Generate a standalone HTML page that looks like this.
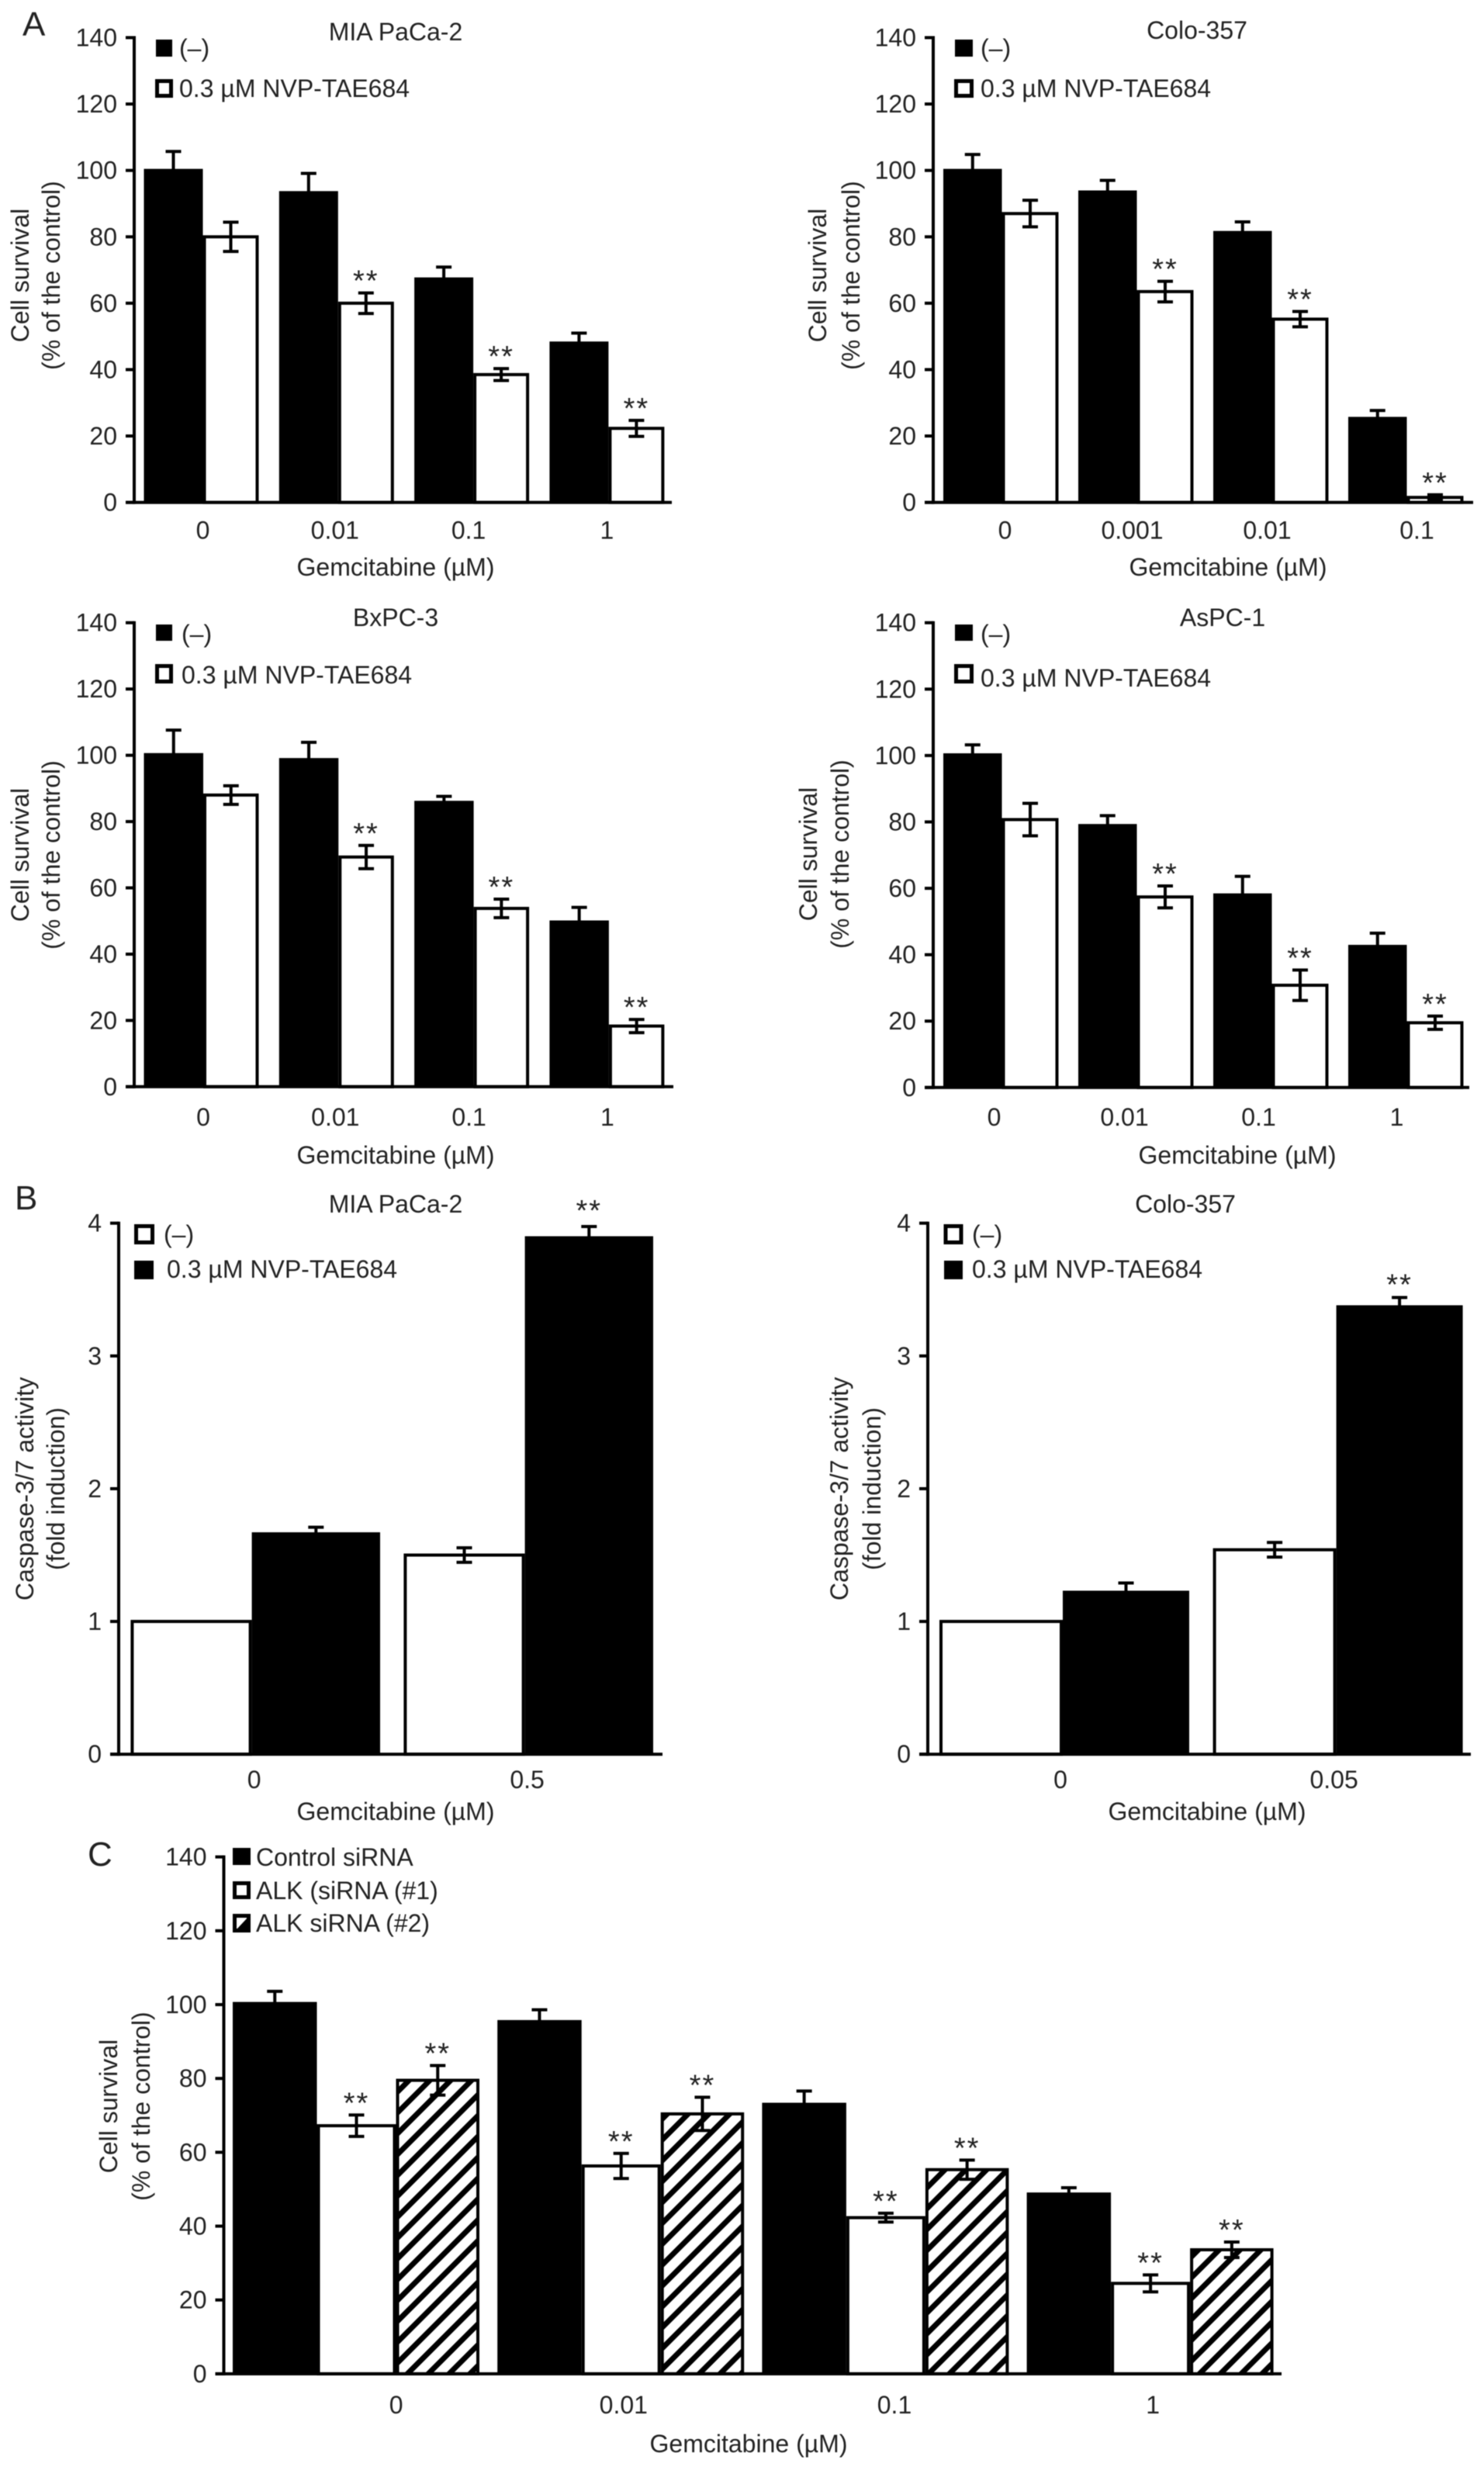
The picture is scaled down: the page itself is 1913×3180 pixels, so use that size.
<!DOCTYPE html>
<html lang="en">
<head>
<meta charset="utf-8">
<title>Gemcitabine and NVP-TAE684 cell survival figure</title>
<style>
html,body{margin:0;padding:0;background:#fff;}
svg{display:block;filter:blur(0.6px);}
text{font-family:"Liberation Sans",Arial,sans-serif;font-size:32px;fill:#222;dominant-baseline:central;}
.panel-letter{font-size:44px;dominant-baseline:alphabetic;}
.mid{text-anchor:middle;}
</style>
</head>
<body>
<svg id="figure" xmlns="http://www.w3.org/2000/svg" width="1913" height="3180" viewBox="0 0 1913 3180">
<defs>
<pattern id="hatch" width="19" height="19" patternUnits="userSpaceOnUse" patternTransform="rotate(45)">
<rect width="19" height="19" fill="#fff"></rect>
<rect x="4.5" width="7" height="19" fill="#000"></rect>
</pattern>
</defs>
<rect width="1913" height="3180" fill="#fff"></rect>

<text class="panel-letter" x="29" y="46">A</text>
<text class="panel-letter" x="19" y="1559">B</text>
<text class="panel-letter" x="113" y="2405">C</text>

<!-- A: MIA PaCa-2 -->
<text class="mid" x="510" y="41">MIA PaCa-2</text>
<rect x="201" y="51" width="21" height="22" fill="#000"></rect>
<text x="231" y="62">(–)</text>
<rect x="202.500" y="104.500" width="18" height="19" fill="#fff" stroke="#000" stroke-width="5"></rect>
<text x="231" y="114">0.3 µM NVP-TAE684</text>
<text class="mid" x="510" y="731">Gemcitabine (µM)</text>
<text class="mid" transform="rotate(-90 26 355)" x="26" y="355">Cell survival</text>
<text class="mid" transform="rotate(-90 66 355)" x="66" y="355">(% of the control)</text>

<!-- A: Colo-357 -->
<text class="mid" x="1543" y="39">Colo-357</text>
<rect x="1231" y="51" width="23" height="22" fill="#000"></rect>
<text x="1264" y="62">(–)</text>
<rect x="1232.500" y="104.500" width="20" height="19" fill="#fff" stroke="#000" stroke-width="5"></rect>
<text x="1264" y="114">0.3 µM NVP-TAE684</text>
<text class="mid" x="1583" y="731">Gemcitabine (µM)</text>
<text class="mid" transform="rotate(-90 1054 355)" x="1054" y="355">Cell survival</text>
<text class="mid" transform="rotate(-90 1097 355)" x="1097" y="355">(% of the control)</text>

<!-- A: BxPC-3 -->
<text class="mid" x="510" y="796">BxPC-3</text>
<rect x="201" y="805" width="21" height="21" fill="#000"></rect>
<text x="234" y="817">(–)</text>
<rect x="202.500" y="858.500" width="18" height="20" fill="#fff" stroke="#000" stroke-width="5"></rect>
<text x="234" y="870">0.3 µM NVP-TAE684</text>
<text class="mid" x="510" y="1489">Gemcitabine (µM)</text>
<text class="mid" transform="rotate(-90 26 1102)" x="26" y="1102">Cell survival</text>
<text class="mid" transform="rotate(-90 66 1102)" x="66" y="1102">(% of the control)</text>

<!-- A: AsPC-1 -->
<text class="mid" x="1576" y="796">AsPC-1</text>
<rect x="1231" y="805" width="23" height="21" fill="#000"></rect>
<text x="1264" y="817">(–)</text>
<rect x="1232.500" y="858.500" width="20" height="20" fill="#fff" stroke="#000" stroke-width="5"></rect>
<text x="1264" y="874">0.3 µM NVP-TAE684</text>
<text class="mid" x="1595" y="1489">Gemcitabine (µM)</text>
<text class="mid" transform="rotate(-90 1042 1101)" x="1042" y="1101">Cell survival</text>
<text class="mid" transform="rotate(-90 1083 1101)" x="1083" y="1101">(% of the control)</text>

<!-- B: MIA PaCa-2 -->
<text class="mid" x="510" y="1552">MIA PaCa-2</text>
<rect x="175.500" y="1580.500" width="21" height="21" fill="#fff" stroke="#000" stroke-width="5"></rect>
<text x="211" y="1591">(–)</text>
<rect x="173" y="1625" width="25" height="24" fill="#000"></rect>
<text x="215" y="1636">0.3 µM NVP-TAE684</text>
<text class="mid" x="510" y="2335">Gemcitabine (µM)</text>
<text class="mid" transform="rotate(-90 32 1919)" x="32" y="1919">Caspase-3/7 activity</text>
<text class="mid" transform="rotate(-90 72 1919)" x="72" y="1919">(fold induction)</text>

<!-- B: Colo-357 -->
<text class="mid" x="1528" y="1552">Colo-357</text>
<rect x="1219" y="1580.500" width="20" height="21" fill="#fff" stroke="#000" stroke-width="5"></rect>
<text x="1253" y="1591">(–)</text>
<rect x="1217" y="1625" width="24" height="24" fill="#000"></rect>
<text x="1253" y="1636">0.3 µM NVP-TAE684</text>
<text class="mid" x="1556" y="2335">Gemcitabine (µM)</text>
<text class="mid" transform="rotate(-90 1082 1919)" x="1082" y="1919">Caspase-3/7 activity</text>
<text class="mid" transform="rotate(-90 1124 1919)" x="1124" y="1919">(fold induction)</text>

<!-- C -->
<rect x="300" y="2382" width="23" height="22" fill="#000"></rect>
<text x="330" y="2394">Control siRNA</text>
<rect x="302.500" y="2427.500" width="18" height="18" fill="#fff" stroke="#000" stroke-width="5"></rect>
<text x="330" y="2437">ALK (siRNA (#1)</text>
<rect x="302.500" y="2469.500" width="18" height="19" fill="#fff" stroke="#000" stroke-width="5"></rect>
<polygon points="305,2487 319,2487 319,2472" fill="#000"></polygon>
<text x="330" y="2479">ALK siRNA (#2)</text>
<text class="mid" x="965" y="3150">Gemcitabine (µM)</text>
<text class="mid" transform="rotate(-90 140 2715)" x="140" y="2715">Cell survival</text>
<text class="mid" transform="rotate(-90 182 2715)" x="182" y="2715">(% of the control)</text>
</svg>

<script>
// ---------- Shared tick labels ----------
const survivalTicks = [0, 20, 40, 60, 80, 100, 120, 140];
const caspaseTicks = [0, 1, 2, 3, 4];

// ---------- A: MIA PaCa-2 ----------
const miaCategories = ['0', '0.01', '0.1', '1'];
const miaControl = [100, 93.3, 67.3, 48];
const miaControlErr = [5.7, 5.8, 3.6, 3];
const miaTreated = [80, 60, 38.5, 22.3];
const miaTreatedErr = [4.4, 3.1, 1.8, 2.4];
const miaStars = [0, 1, 1, 1];

// ---------- A: Colo-357 ----------
const coloCategories = ['0', '0.001', '0.01', '0.1'];
const coloControl = [100, 93.5, 81.3, 25.3];
const coloControlErr = [4.8, 3.5, 3.2, 2.4];
const coloTreated = [87, 63.5, 55.2, 1.5];
const coloTreatedErr = [4, 3.1, 2.3, 0.8];
const coloStars = [0, 1, 1, 1];

// ---------- A: BxPC-3 ----------
const bxpcCategories = ['0', '0.01', '0.1', '1'];
const bxpcControl = [100.2, 98.7, 85.8, 49.7];
const bxpcControlErr = [7.4, 5.2, 1.8, 4.4];
const bxpcTreated = [88, 69.3, 53.8, 18.3];
const bxpcTreatedErr = [2.8, 3.5, 2.8, 2];
const bxpcStars = [0, 1, 1, 1];

// ---------- A: AsPC-1 ----------
const aspcCategories = ['0', '0.01', '0.1', '1'];
const aspcControl = [100.2, 78.9, 58, 42.5];
const aspcControlErr = [3, 3, 5.6, 4];
const aspcTreated = [80.7, 57.4, 30.8, 19.5];
const aspcTreatedErr = [4.9, 3.3, 4.6, 2];
const aspcStars = [0, 1, 1, 1];

// ---------- B: Caspase MIA PaCa-2 ----------
const casMiaCategories = ['0', '0.5'];
const casMiaControl = [1, 1.5];
const casMiaControlErr = [0, 0.055];
const casMiaTreated = [1.66, 3.89];
const casMiaTreatedErr = [0.05, 0.085];
const casMiaStars = [0, 1];

// ---------- B: Caspase Colo-357 ----------
const casColoCategories = ['0', '0.05'];
const casColoControl = [1, 1.54];
const casColoControlErr = [0, 0.055];
const casColoTreated = [1.22, 3.37];
const casColoTreatedErr = [0.07, 0.07];
const casColoStars = [0, 1];

// ---------- C: siRNA ----------
const sirnaCategories = ['0', '0.01', '0.1', '1'];
const sirnaControl = [100.3, 95.4, 73, 48.7];
const sirnaControlErr = [3.3, 3.2, 3.6, 1.7];
const sirnaOne = [67.2, 56.3, 42.3, 24.5];
const sirnaOneErr = [2.9, 3.4, 1.2, 2.3];
const sirnaOneStars = [1, 1, 1, 1];
const sirnaTwo = [79.5, 70.4, 55.3, 33.6];
const sirnaTwoErr = [4, 4.5, 2.6, 2.1];
const sirnaTwoStars = [1, 1, 1, 1];

// ---------- Drawing ----------
const SVGNS = 'http://www.w3.org/2000/svg';
const figure = document.getElementById('figure');

function make(tag, parent) {
  const node = document.createElementNS(SVGNS, tag);
  parent.appendChild(node);
  return node;
}

function drawLine(parent, x1, y1, x2, y2, width) {
  const line = make('line', parent);
  line.setAttribute('x1', x1);
  line.setAttribute('y1', y1);
  line.setAttribute('x2', x2);
  line.setAttribute('y2', y2);
  line.setAttribute('stroke', '#000');
  line.setAttribute('stroke-width', width);
  return line;
}

function drawPanel(p) {
  const group = make('g', figure);
  
  

  const yScale = function (v) {
    return p.yZero - (v / p.yMax) * (p.yZero - p.yTop);
  };
  const groupX = function (i) {
    return p.barStart + i * p.groupStep;
  };

  // bars, error bars, stars
  p.series.forEach(function (s, si) {
    let offset = 0;
    for (let k = 0; k < si; k++) offset += p.barWidths[k];
    const w = p.barWidths[si];

    s.values.forEach(function (v, i) {
      const x = groupX(i) + offset;
      const top = yScale(v);
      const bar = make('rect', group);
      
      
      if (s.look === 'solid') {
        bar.setAttribute('x', x);
        bar.setAttribute('y', top - 2);
        bar.setAttribute('width', w);
        bar.setAttribute('height', p.yZero - top + 2);
        bar.setAttribute('fill', '#000');
      } else {
        bar.setAttribute('x', x + 2);
        bar.setAttribute('y', top);
        bar.setAttribute('width', w - 4);
        bar.setAttribute('height', p.yZero - top);
        bar.setAttribute('fill', s.look === 'hatch' ? 'url(#hatch)' : '#fff');
        bar.setAttribute('stroke', '#000');
        bar.setAttribute('stroke-width', '4');
      }
    });
  });

  p.series.forEach(function (s, si) {
    let offset = 0;
    for (let k = 0; k < si; k++) offset += p.barWidths[k];
    const w = p.barWidths[si];

    s.values.forEach(function (v, i) {
      const e = s.errs[i];
      const cx = groupX(i) + offset + w / 2;
      const upper = yScale(v + e);
      if (e > 0) {
        const stem = drawLine(group, cx, s.look === 'solid' ? yScale(v) : yScale(v - e), cx, upper, 4);
        
        
        const capTop = drawLine(group, cx - 10, upper, cx + 10, upper, 4);
        
        
        if (s.look !== 'solid') {
          const capBottom = drawLine(group, cx - 10, yScale(v - e), cx + 10, yScale(v - e), 4);
          
          
        }
      }
      if (s.stars && s.stars[i]) {
        const star = make('text', group);
        
        
        star.setAttribute('class', 'mid');
        star.setAttribute('x', cx);
        star.setAttribute('y', upper - p.starGap + 6);
        star.setAttribute('style', 'font-size:38px;letter-spacing:2px');
        star.textContent = '**';
      }
    });
  });

  // y axis
  const yAxis = drawLine(group, p.axisX, p.yTop - 2, p.axisX, p.yZero + 2, 4);
  
  

  p.ticks.forEach(function (t) {
    const y = yScale(t);
    const tick = drawLine(group, p.axisX - 11, y, p.axisX, y, 4);
    
    
    const label = make('text', group);
    
    
    label.setAttribute('x', p.axisX - 22);
    label.setAttribute('y', y);
    label.setAttribute('text-anchor', 'end');
    label.textContent = t;
  });

  // x axis
  const xAxis = drawLine(group, p.axisX - 11, p.yZero, p.axisRight, p.yZero, 4);
  
  

  p.categories.forEach(function (c, i) {
    const label = make('text', group);
    
    
    label.setAttribute('class', 'mid');
    label.setAttribute('x', groupX(i) + p.labelOffset + p.labelNudge[i]);
    label.setAttribute('y', p.yZero + p.labelDrop);
    label.textContent = c;
  });
}

drawPanel({
  name: 'chart-a-mia-paca-2', categories: miaCategories, ticks: survivalTicks, yMax: 140,
  axisX: 173, axisRight: 866, yTop: 48.5, yZero: 647.6,
  barStart: 185.5, groupStep: 174.3, barWidths: [76, 72],
  labelOffset: 76, labelNudge: [0, -4, -6, -2], labelDrop: 36, starGap: 21,
  series: [
    { key: 'control', look: 'solid', values: miaControl, errs: miaControlErr },
    { key: 'treated', look: 'open', values: miaTreated, errs: miaTreatedErr, stars: miaStars }
  ]
});

drawPanel({
  name: 'chart-a-colo-357', categories: coloCategories, ticks: survivalTicks, yMax: 140,
  axisX: 1203, axisRight: 1899, yTop: 48.5, yZero: 647.6,
  barStart: 1216, groupStep: 174, barWidths: [75.5, 73],
  labelOffset: 75.5, labelNudge: [4, -6, -6, 13], labelDrop: 36, starGap: 21,
  series: [
    { key: 'control', look: 'solid', values: coloControl, errs: coloControlErr },
    { key: 'treated', look: 'open', values: coloTreated, errs: coloTreatedErr, stars: coloStars }
  ]
});

drawPanel({
  name: 'chart-a-bxpc-3', categories: bxpcCategories, ticks: survivalTicks, yMax: 140,
  axisX: 173, axisRight: 868, yTop: 802.7, yZero: 1400.8,
  barStart: 185.5, groupStep: 174.3, barWidths: [76.5, 71.5],
  labelOffset: 76.5, labelNudge: [0, -4, -6, -2], labelDrop: 39, starGap: 21,
  series: [
    { key: 'control', look: 'solid', values: bxpcControl, errs: bxpcControlErr },
    { key: 'treated', look: 'open', values: bxpcTreated, errs: bxpcTreatedErr, stars: bxpcStars }
  ]
});

drawPanel({
  name: 'chart-a-aspc-1', categories: aspcCategories, ticks: survivalTicks, yMax: 140,
  axisX: 1203, axisRight: 1894, yTop: 802.7, yZero: 1401.8,
  barStart: 1216, groupStep: 174, barWidths: [75.5, 73],
  labelOffset: 75.5, labelNudge: [-10, -16, -17, -13], labelDrop: 38, starGap: 21,
  series: [
    { key: 'control', look: 'solid', values: aspcControl, errs: aspcControlErr },
    { key: 'treated', look: 'open', values: aspcTreated, errs: aspcTreatedErr, stars: aspcStars }
  ]
});

drawPanel({
  name: 'chart-b-mia-paca-2', categories: casMiaCategories, ticks: caspaseTicks, yMax: 4,
  axisX: 153, axisRight: 854, yTop: 1576.7, yZero: 2261.2,
  barStart: 168.4, groupStep: 352, barWidths: [156.2, 165.4],
  labelOffset: 156.2, labelNudge: [3, 3], labelDrop: 33, starGap: 26,
  series: [
    { key: 'control', look: 'open', values: casMiaControl, errs: casMiaControlErr },
    { key: 'treated', look: 'solid', values: casMiaTreated, errs: casMiaTreatedErr, stars: casMiaStars }
  ]
});

drawPanel({
  name: 'chart-b-colo-357', categories: casColoCategories, ticks: caspaseTicks, yMax: 4,
  axisX: 1196, axisRight: 1896, yTop: 1576.7, yZero: 2261.2,
  barStart: 1211, groupStep: 352.6, barWidths: [159, 163],
  labelOffset: 159, labelNudge: [-3, -3], labelDrop: 33, starGap: 22,
  series: [
    { key: 'control', look: 'open', values: casColoControl, errs: casColoControlErr },
    { key: 'treated', look: 'solid', values: casColoTreated, errs: casColoTreatedErr, stars: casColoStars }
  ]
});

drawPanel({
  name: 'chart-c-sirna', categories: sirnaCategories, ticks: survivalTicks, yMax: 140,
  axisX: 288.5, axisRight: 1652, yTop: 2393.6, yZero: 3059.9,
  barStart: 300, groupStep: 341.2, barWidths: [108.5, 102, 107.5],
  labelOffset: 210.6, labelNudge: [0, -48, -40, -48], labelDrop: 40, starGap: 21,
  series: [
    { key: 'control-sirna', look: 'solid', values: sirnaControl, errs: sirnaControlErr },
    { key: 'alk-sirna-1', look: 'open', values: sirnaOne, errs: sirnaOneErr, stars: sirnaOneStars },
    { key: 'alk-sirna-2', look: 'hatch', values: sirnaTwo, errs: sirnaTwoErr, stars: sirnaTwoStars }
  ]
});
</script>
</body>
</html>
